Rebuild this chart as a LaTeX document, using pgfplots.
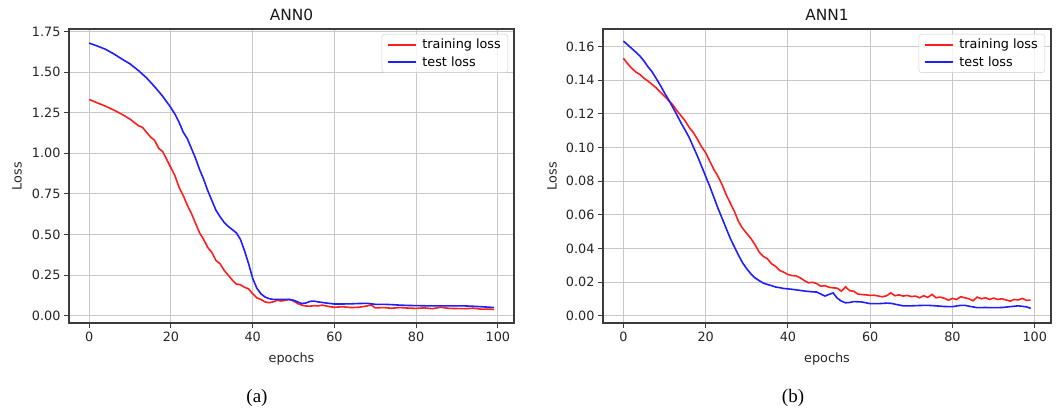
\documentclass[border=0pt]{standalone}
\usepackage{pgfplots}
\pgfplotsset{compat=1.18}
\usepackage{fontspec}
\setmainfont{DejaVu Sans}
\newfontfamily\capfont{Liberation Serif}

\definecolor{lossred}{RGB}{255, 30, 30}
\definecolor{lossblue}{RGB}{30, 30, 255}
\definecolor{gridgray}{RGB}{200, 200, 200}
\definecolor{axgray}{RGB}{60, 60, 60}

\pgfplotsset{
	lossax/.style = {
		scale only axis,
		height = 294pt,
		xmin = -4.95, xmax = 103.95,
		xtick = {0,20,...,100},
		grid = major,
		grid style = {draw = gridgray, line width = 1pt},
		axis line style = {draw = axgray, line width = 1.2pt},
		tick align = outside,
		major tick length = 5pt,
		tick style = {draw = axgray, line width = 1pt},
		xtick pos = bottom, ytick pos = left,
		tick label style = {font = \fontsize{12.8}{14}\selectfont, text = black!85},
		label style = {font = \fontsize{12.8}{14}\selectfont, text = black!85},
		title style = {font = \fontsize{15.4}{17}\selectfont, text = black!90,
			at = {(axis description cs:0.5,1)}, anchor = south, yshift = -1pt},
		/pgf/number format/assume math mode = true,
		yticklabel style = {/pgf/number format/fixed, /pgf/number format/fixed zerofill,
			/pgf/number format/precision = 2},
		xlabel = {epochs},
		ylabel = {Loss},
		xlabel style = {at = {(axis description cs:0.5,-0.1224)}, anchor = center},
		legend cell align = left,
		legend style = {
			at = {(axis description cs:1,1)}, anchor = north east,
			xshift = -6pt, yshift = -5pt,
			draw = black!20, rounded corners = 3pt,
			fill = white, fill opacity = 0.8, text opacity = 1,
			font = \fontsize{12.8}{14}\selectfont,
			inner xsep = 5pt, inner ysep = 3pt,
			row sep = 2pt, column sep = 4pt,
		},
		legend image code/.code = {\draw[#1] (0pt,0pt) -- (28pt,0pt);},
		every axis plot/.append style = {line width = 1.6pt, mark = none},
	},
}

\begin{document}
\begin{tikzpicture}
\path[use as bounding box] (0,0) rectangle (1060pt,415pt);

% (a) ANN0
\begin{axis}[
	lossax,
	at = {(69pt,92pt)}, anchor = south west,
	width = 445pt,
	ymin = -0.045, ymax = 1.765,
	ytick = {0,0.25,...,1.75},
	title = {ANN0},
	ylabel style = {at = {(axis description cs:-0.117,0.5)}, anchor = center},
]
\addplot[color = lossred] coordinates {
	(0,1.331) (2,1.31) (4,1.29) (6,1.266) (8,1.24) (10,1.21) (12,1.17) (13,1.16)
	(14,1.13) (15,1.10) (16,1.08) (17,1.03) (18,1.01) (19,0.96) (20,0.91) (21,0.86)
	(22,0.79) (23,0.74) (24,0.68) (25,0.63) (26,0.57) (27,0.51) (28,0.47) (29,0.42)
	(30,0.39) (31,0.34) (32,0.32) (33,0.28) (34,0.25) (35,0.22) (36,0.195) (37,0.19)
	(38,0.175) (39,0.165) (40,0.135) (41,0.11) (42,0.10) (43,0.085) (44,0.08) (45,0.085)
	(46,0.095) (47,0.09) (48,0.095) (49,0.10) (50,0.09) (51,0.075) (52,0.065) (53,0.06)
	(54,0.058) (55,0.062) (56,0.06) (57,0.065) (58,0.06) (59,0.055) (60,0.052) (62,0.055)
	(64,0.05) (66,0.052) (68,0.06) (69,0.066) (70,0.048) (72,0.05) (74,0.046) (76,0.05)
	(78,0.047) (80,0.045) (82,0.048) (84,0.043) (86,0.052) (88,0.045) (90,0.044) (92,0.043)
	(94,0.046) (96,0.04) (98,0.04) (99,0.038)
};
\addlegendentry{training loss}
\addplot[color = lossblue] coordinates {
	(0,1.678) (2,1.66) (4,1.64) (6,1.612) (8,1.58) (10,1.55) (12,1.51) (14,1.465)
	(16,1.41) (18,1.35) (20,1.28) (21,1.24) (22,1.19) (23,1.13) (24,1.09) (25,1.03)
	(26,0.97) (27,0.90) (28,0.84) (29,0.77) (30,0.71) (31,0.65) (32,0.61) (33,0.575)
	(34,0.55) (35,0.53) (36,0.51) (37,0.47) (38,0.40) (39,0.32) (40,0.23) (41,0.17)
	(42,0.135) (43,0.115) (44,0.105) (45,0.10) (46,0.10) (47,0.10) (48,0.10) (49,0.10)
	(50,0.095) (51,0.085) (52,0.075) (53,0.078) (54,0.088) (55,0.09) (56,0.085) (58,0.078)
	(60,0.072) (62,0.072) (64,0.073) (66,0.075) (68,0.076) (70,0.07) (72,0.07) (74,0.068)
	(76,0.065) (78,0.063) (80,0.062) (82,0.061) (84,0.06) (86,0.06) (88,0.06) (90,0.06)
	(92,0.06) (94,0.058) (96,0.055) (98,0.052) (99,0.05)
};
\addlegendentry{test loss}
\end{axis}

% (b) ANN1
\begin{axis}[
	lossax,
	at = {(603pt,92pt)}, anchor = south west,
	width = 448pt,
	ymin = -0.0042, ymax = 0.1705,
	ytick = {0,0.02,...,0.16},
	title = {ANN1},
	ylabel style = {at = {(axis description cs:-0.114,0.5)}, anchor = center},
]
\addplot[color = lossred] coordinates {
	(0,0.1531) (1,0.150) (2,0.1472) (3,0.145) (4,0.1435) (5,0.1413) (6,0.1395) (7,0.1375)
	(8,0.1355) (9,0.133) (10,0.1305) (11,0.128) (12,0.1255) (13,0.122) (14,0.119) (15,0.116)
	(16,0.112) (17,0.109) (18,0.105) (19,0.1005) (20,0.097) (21,0.092) (22,0.087) (23,0.083)
	(24,0.078) (25,0.072) (26,0.067) (27,0.062) (28,0.056) (29,0.052) (30,0.049) (31,0.046)
	(32,0.0423) (33,0.038) (34,0.0354) (35,0.034) (36,0.031) (37,0.0295) (38,0.027) (39,0.026)
	(40,0.0246) (41,0.024) (42,0.0238) (43,0.0226) (44,0.021) (45,0.0197) (46,0.02) (47,0.0192)
	(48,0.0177) (49,0.018) (50,0.017) (51,0.0167) (52,0.0165) (53,0.0147) (54,0.0173) (55,0.015)
	(56,0.0147) (57,0.013) (58,0.0127) (59,0.0125) (60,0.0122) (61,0.0123) (62,0.0118) (63,0.0114)
	(64,0.012) (65,0.0137) (66,0.012) (67,0.0125) (68,0.0118) (69,0.0122) (70,0.0115) (71,0.0118)
	(72,0.0108) (73,0.012) (74,0.011) (75,0.0128) (76,0.0108) (77,0.0112) (78,0.0105) (79,0.0094)
	(80,0.0104) (81,0.0098) (82,0.0114) (83,0.0108) (84,0.0102) (85,0.009) (86,0.0112) (87,0.0102)
	(88,0.0108) (89,0.0098) (90,0.0106) (91,0.0098) (92,0.0102) (93,0.0095) (94,0.0088) (95,0.0098)
	(96,0.0095) (97,0.0104) (98,0.0092) (99,0.0094)
};
\addlegendentry{training loss}
\addplot[color = lossblue] coordinates {
	(0,0.1633) (1,0.1612) (2,0.159) (3,0.1568) (4,0.1545) (5,0.1515) (6,0.148) (7,0.145)
	(8,0.141) (9,0.137) (10,0.1325) (11,0.1285) (12,0.124) (13,0.1195) (14,0.1148) (15,0.1105)
	(16,0.106) (17,0.1005) (18,0.095) (19,0.089) (20,0.083) (21,0.077) (22,0.0705) (23,0.064)
	(24,0.058) (25,0.052) (26,0.046) (27,0.041) (28,0.036) (29,0.0315) (30,0.028) (31,0.025)
	(32,0.0226) (33,0.021) (34,0.0195) (35,0.0187) (36,0.018) (37,0.0172) (38,0.0168) (39,0.0163)
	(40,0.0161) (42,0.0155) (44,0.0148) (46,0.0143) (47,0.0142) (48,0.013) (49,0.0118) (50,0.0128)
	(51,0.0137) (52,0.0105) (53,0.0088) (54,0.0078) (55,0.008) (56,0.0085) (58,0.0083) (60,0.0073)
	(62,0.0073) (64,0.0076) (65,0.0075) (66,0.007) (68,0.006) (70,0.006) (72,0.0062) (74,0.0063)
	(76,0.006) (78,0.0056) (80,0.0055) (82,0.0063) (83,0.0063) (84,0.0058) (86,0.0049) (88,0.005)
	(90,0.0049) (92,0.005) (94,0.0055) (96,0.006) (98,0.0054) (99,0.0045)
};
\addlegendentry{test loss}
\end{axis}

\node[font = \capfont\fontsize{19}{22}\selectfont] at (257pt,17pt) {(a)};
\node[font = \capfont\fontsize{19}{22}\selectfont] at (793pt,17pt) {(b)};
\end{tikzpicture}
\end{document}
